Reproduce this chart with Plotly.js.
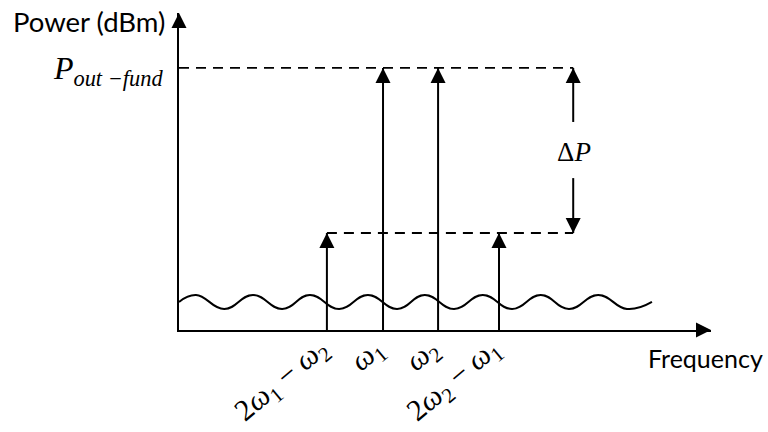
<!DOCTYPE html>
<html><head><meta charset="utf-8">
<script src="https://cdn.plot.ly/plotly-3.0.1.min.js"></script>
<style>html,body{margin:0;padding:0;background:#fff}</style>
</head><body>
<div id="chart" style="width:768px;height:432px"></div>
<script>
// ---- data (schematic units) ----
const toneLabels = [
  '2<i>ω</i><sub>1</sub> − <i>ω</i><sub>2</sub>',
  '<i>ω</i><sub>1</sub>',
  '<i>ω</i><sub>2</sub>',
  '2<i>ω</i><sub>2</sub> − <i>ω</i><sub>1</sub>'
];
const toneFreq = [27.8, 38.35, 48.7, 60.15];     // frequency (arb. units)
const tonePower = [-40, 0, 0, -40];              // dBm
const fundPower = 0;
const im3Power = -40;
const powerRange = [-63.5, 13.3];
const freqRange = [0, 100];
const noiseX = [0, 3.2, 8.5, 13.9, 19.4, 24.6, 30.1, 35.5, 41.0, 46.2, 51.7, 57.1, 62.6, 68.0, 73.3, 78.8, 84.2, 88.9];
const noiseY = [-56.7, -55.0, -58.4, -55.0, -58.4, -55.0, -58.4, -55.0, -58.4, -55.0, -58.4, -55.0, -58.4, -55.0, -58.4, -55.0, -58.4, -56.7];
const deltaPFreq = 74.1;
const deltaPShaftTop = -13.1;
const deltaPShaftBottom = -26.7;
const deltaPLabelPower = -20.3;

// ---- traces ----
const black = '#000';
const dashPat = '10px,7px';
const stemX = [], stemY = [];
toneFreq.forEach((f, i) => { stemX.push(f, f, null); stemY.push(powerRange[0], tonePower[i], null); });

// arrow heads: tones, delta-P, axis ends
const headX = toneFreq.concat([deltaPFreq, deltaPFreq, freqRange[1], freqRange[0]]);
const headY = tonePower.concat([fundPower, im3Power, powerRange[0], powerRange[1]]);
const headSym = toneFreq.map(() => 'arrow-up').concat(['arrow-up', 'arrow-down', 'arrow-right', 'arrow-up']);

const traces = [
  {x: stemX, y: stemY, mode: 'lines', line: {color: black, width: 2}, hoverinfo: 'skip'},
  {x: noiseX, y: noiseY, mode: 'lines', line: {color: black, width: 2, shape: 'spline', smoothing: 1.3}, hoverinfo: 'skip'},
  {x: [freqRange[0], deltaPFreq], y: [fundPower, fundPower], mode: 'lines', line: {color: black, width: 1.8, dash: dashPat}, hoverinfo: 'skip'},
  {x: [toneFreq[0], deltaPFreq], y: [im3Power, im3Power], mode: 'lines', line: {color: black, width: 1.8, dash: dashPat}, hoverinfo: 'skip'},
  {x: [deltaPFreq, deltaPFreq, null, deltaPFreq, deltaPFreq], y: [deltaPShaftTop, fundPower, null, deltaPShaftBottom, im3Power], mode: 'lines', line: {color: black, width: 2}, hoverinfo: 'skip'},
  {x: headX, y: headY, mode: 'markers', cliponaxis: false, hoverinfo: 'skip',
   marker: {symbol: headSym, size: 15, color: black, line: {width: 0}}}
];

const annotations = [];
toneFreq.forEach((f, i) => annotations.push({
  x: f, y: 0, xref: 'x', yref: 'paper', showarrow: false, text: toneLabels[i], textangle: -40,
  xanchor: 'right', yanchor: 'top', xshift: 12, yshift: 2,
  font: {family: 'Liberation Serif', size: 30, color: black}
}));
annotations.push({x: deltaPFreq, y: deltaPLabelPower, xref: 'x', yref: 'y', showarrow: false, text: 'Δ<i>P</i>',
  font: {family: 'Liberation Serif', size: 27, color: black}, xanchor: 'center', yanchor: 'middle', xshift: 1});
annotations.push({x: 0, y: 1, xref: 'paper', yref: 'paper', showarrow: false, text: 'Power (dBm)',
  font: {family: 'Lato', size: 27.5, color: black}, xanchor: 'right', yanchor: 'middle', xshift: -12, yshift: -8});
annotations.push({x: 1, y: 0, xref: 'paper', yref: 'paper', showarrow: false, text: 'Frequency',
  font: {family: 'Lato', size: 25, color: black}, xanchor: 'center', yanchor: 'middle', xshift: -6, yshift: -28});

const layout = {
  width: 768, height: 432,
  margin: {l: 179, r: 57, t: 13, b: 102, pad: 0},
  paper_bgcolor: '#fff', plot_bgcolor: '#fff',
  showlegend: false,
  xaxis: {range: freqRange, showline: true, linecolor: black, linewidth: 2, showgrid: false, zeroline: false,
    showticklabels: false, ticks: '', fixedrange: true},
  yaxis: {range: powerRange, showline: true, linecolor: black, linewidth: 2, showgrid: false, zeroline: false,
    tickmode: 'array', tickvals: [fundPower],
    ticktext: ['<i>P</i><sub><i>out −fund</i></sub>'],
    ticks: '', tickfont: {family: 'Liberation Serif', size: 32, color: black}, ticklabelstandoff: 8, fixedrange: true},
  annotations: annotations
};
Plotly.newPlot('chart', traces, layout, {staticPlot: true, displayModeBar: false});
</script>
</body></html>
